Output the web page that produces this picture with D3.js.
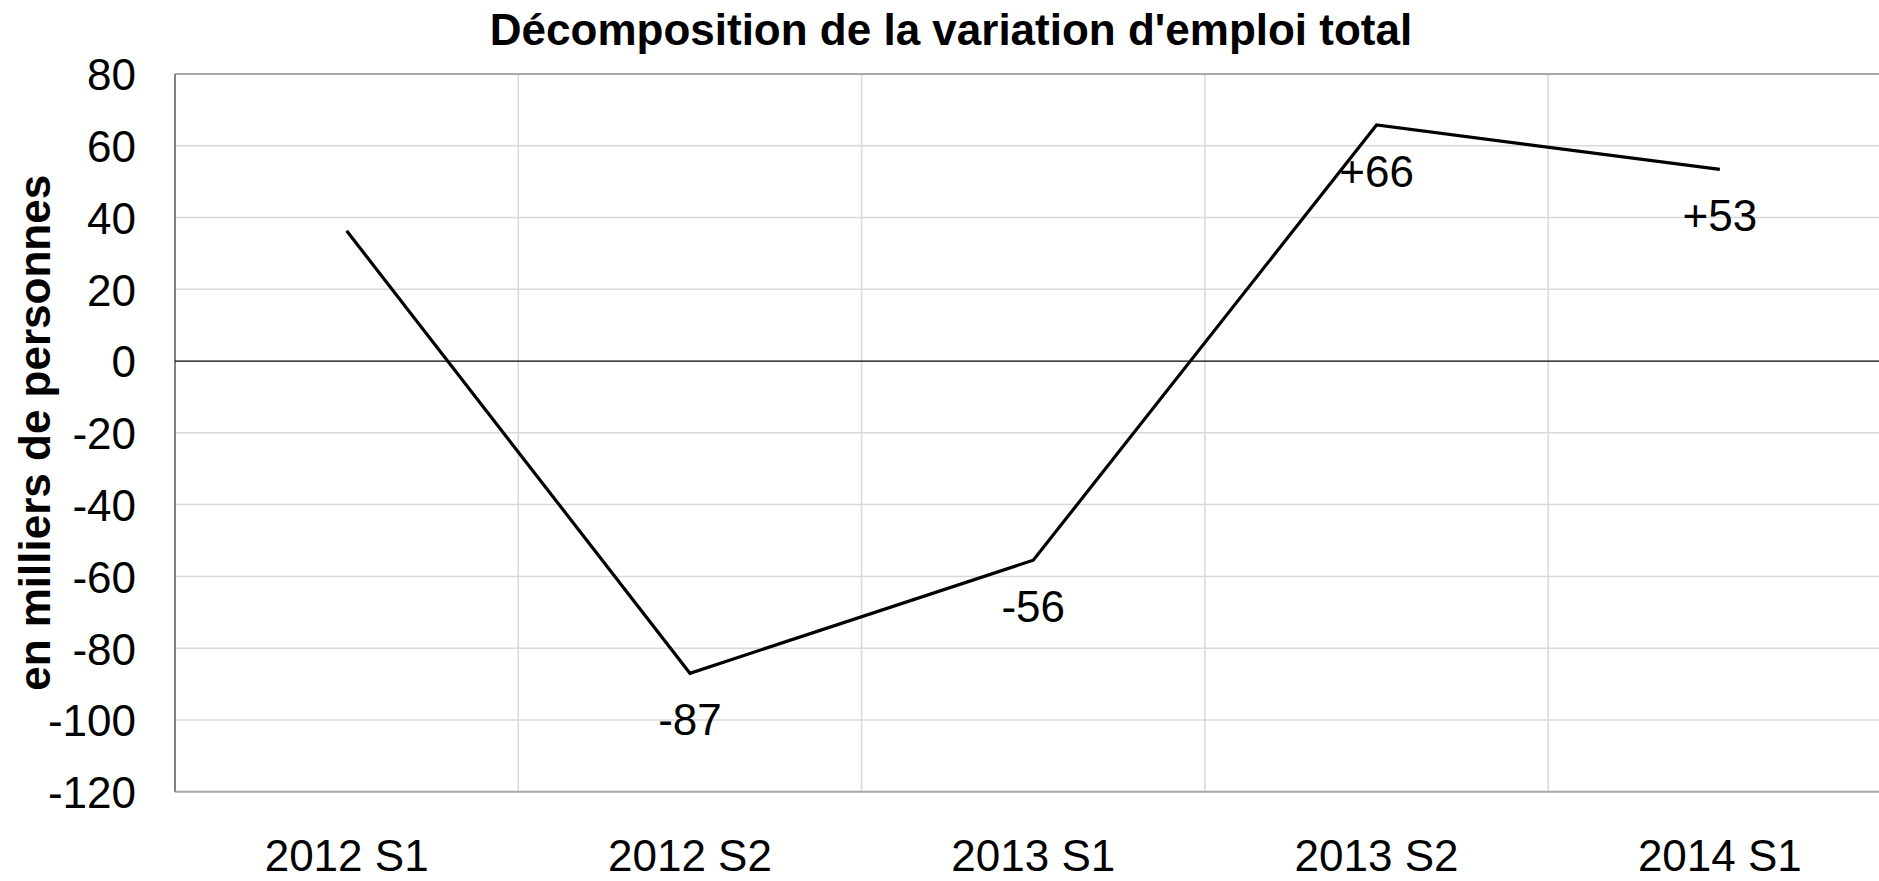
<!DOCTYPE html>
<html>
<head>
<meta charset="utf-8">
<script src="https://cdn.jsdelivr.net/npm/d3@7"></script>
<style>
  html, body { margin: 0; padding: 0; background: #fff; overflow: hidden; }
  svg { display: block; font-family: "Liberation Sans", Arial, sans-serif; }
</style>
</head>
<body>
<svg id="chart" width="1879" height="881"></svg>
<script>
const categories = ["2012 S1", "2012 S2", "2013 S1", "2013 S2", "2014 S1"];
const values = [36.3, -87, -55.5, 65.8, 53.4];
const labels = [null, "-87", "-56", "+66", "+53"];
const yTicks = [80, 60, 40, 20, 0, -20, -40, -60, -80, -100, -120];
const title = "Décomposition de la variation d'emploi total";
const yTitle = "en milliers de personnes";

(function () {
const pLeft = 175, pTop = 74, pBottom = 791.7, bandW = 343.3;
const pRight = pLeft + bandW * categories.length;

const svg = d3.select("#chart");

const x = d3.scaleBand().domain(categories).range([pLeft, pRight]).padding(0);
const y = d3.scaleLinear().domain([-120, 80]).range([pBottom, pTop]);

// horizontal gridlines
svg.append("g").selectAll("line").data(yTicks.filter(d => d !== 0 && d !== -120 && d !== 80)).join("line")
  .attr("x1", pLeft).attr("x2", pRight)
  .attr("y1", d => y(d)).attr("y2", d => y(d))
  .attr("stroke", "#d9d9d9").attr("stroke-width", 1.5);

// vertical gridlines at category boundaries
svg.append("g").selectAll("line").data(categories.slice(1)).join("line")
  .attr("x1", d => x(d)).attr("x2", d => x(d))
  .attr("y1", pTop).attr("y2", pBottom)
  .attr("stroke", "#d9d9d9").attr("stroke-width", 1.5);

// plot border
svg.append("line").attr("x1", pLeft).attr("x2", pRight).attr("y1", y(80)).attr("y2", y(80))
  .attr("stroke", "#8c8c8c").attr("stroke-width", 1.5);
svg.append("line").attr("x1", pLeft).attr("x2", pRight).attr("y1", y(-120)).attr("y2", y(-120))
  .attr("stroke", "#a6a6a6").attr("stroke-width", 2);
svg.append("line").attr("x1", pLeft).attr("x2", pLeft).attr("y1", pTop).attr("y2", pBottom)
  .attr("stroke", "#808080").attr("stroke-width", 2);

// zero line
svg.append("line").attr("x1", pLeft).attr("x2", pRight).attr("y1", y(0)).attr("y2", y(0))
  .attr("stroke", "#000").attr("stroke-width", 1.2);

// y axis labels
const yAxis = d3.axisLeft(y).tickValues(yTicks).tickSize(0).tickPadding(39).tickFormat(d => String(d));
const gy = svg.append("g").attr("transform", `translate(${pLeft},0)`).call(yAxis);
gy.select(".domain").remove();
gy.selectAll("text").attr("font-size", 44).attr("fill", "#000")
  .attr("font-family", "'Liberation Sans', Arial, sans-serif").attr("dy", "0.36em");

// x axis labels
const xAxis = d3.axisBottom(x).tickSize(0).tickPadding(0);
const gx = svg.append("g").attr("transform", `translate(0,${pBottom})`).call(xAxis);
gx.select(".domain").remove();
gx.selectAll("text").attr("font-size", 44).attr("fill", "#000")
  .attr("font-family", "'Liberation Sans', Arial, sans-serif")
  .attr("y", 871 - pBottom).attr("dy", 0);

// line
const data = categories.map((c, i) => ({ c, v: values[i], l: labels[i] }));
const line = d3.line().x(d => x(d.c) + x.bandwidth() / 2).y(d => y(d.v));
svg.append("path").datum(data).attr("d", line)
  .attr("fill", "none").attr("stroke", "#000").attr("stroke-width", 3.2)
  .attr("stroke-linejoin", "miter");

// data labels
svg.append("g").selectAll("text").data(data.filter(d => d.l)).join("text")
  .attr("x", d => x(d.c) + x.bandwidth() / 2)
  .attr("y", d => y(d.v) + 62)
  .attr("text-anchor", "middle").attr("font-size", 44).attr("fill", "#000")
  .text(d => d.l);

// title
svg.append("text").attr("x", 951).attr("y", 45).attr("text-anchor", "middle")
  .attr("font-size", 44).attr("font-weight", "bold").attr("fill", "#000").text(title);

// y title
svg.append("text").attr("transform", `translate(50,${(pTop + pBottom) / 2}) rotate(-90)`)
  .attr("text-anchor", "middle").attr("font-size", 44).attr("font-weight", "bold")
  .attr("fill", "#000").text(yTitle);
})();
</script>
</body>
</html>
